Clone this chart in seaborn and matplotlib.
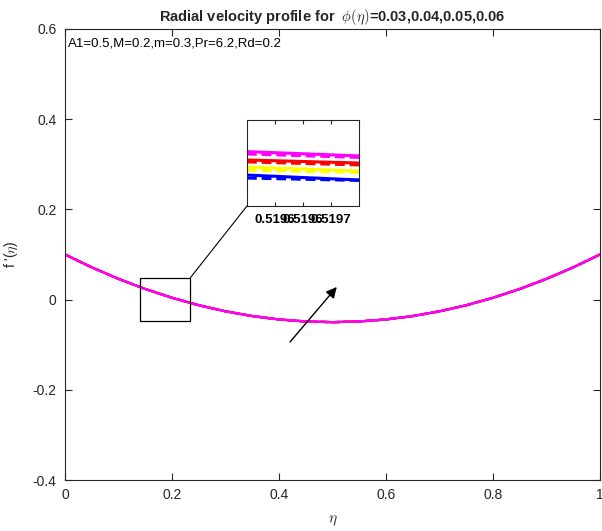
import numpy as np
import pandas as pd
import seaborn as sns
import matplotlib.pyplot as plt
from matplotlib.patches import Rectangle, ConnectionPatch

sns.set_style("ticks")
plt.rcParams["font.family"] = ["Liberation Sans", "DejaVu Sans"]
plt.rcParams["mathtext.fontset"] = "cm"

# radial velocity profile f'(eta); the four phi curves coincide at this scale
eta = [0.0, 0.05, 0.1, 0.15, 0.2, 0.25, 0.3, 0.35, 0.4, 0.45, 0.5,
       0.55, 0.6, 0.65, 0.7, 0.75, 0.8, 0.85, 0.9, 0.95, 1.0]
fp = [0.100, 0.0715, 0.046, 0.0235, 0.004, -0.0125, -0.026, -0.0365, -0.044, -0.0485, -0.050,
      -0.0485, -0.044, -0.0365, -0.026, -0.0125, 0.004, 0.0235, 0.046, 0.0715, 0.100]

phi_labels = ["0.03", "0.04", "0.05", "0.06"]
series_colors = ["#0000ff", "#ffff00", "#ff0000", "#ff00ff"]

# magnified window near the minimum
inset_eta = [0.51955, 0.51975]
inset_solid = {
    "0.03": [-0.050256, -0.050279],
    "0.04": [-0.050219, -0.050237],
    "0.05": [-0.050186, -0.050200],
    "0.06": [-0.050147, -0.050167],
}
inset_dashed = {
    "0.03": [-0.050270, -0.050281],
    "0.04": [-0.050233, -0.050244],
    "0.05": [-0.050195, -0.050209],
    "0.06": [-0.050158, -0.050174],
}
inset_ticks = [0.5196, 0.51965, 0.5197]
inset_ticklabels = ["0.5196", "0.5196", "0.5197"]

x_ticks = [0, 0.2, 0.4, 0.6, 0.8, 1]
x_ticklabels = ["0", "0.2", "0.4", "0.6", "0.8", "1"]
y_ticks = [-0.4, -0.2, 0, 0.2, 0.4, 0.6]
y_ticklabels = ["-0.4", "-0.2", "0", "0.2", "0.4", "0.6"]

W, H = 602, 531
fig = plt.figure(figsize=(W / 100, H / 100), dpi=100)
ax = fig.add_axes([65 / W, 1 - 480 / H, 535 / W, 451 / H])

axis_col = "#262626"
main_rows = []
for phi in phi_labels:
    for kind in ["solid", "dashed"]:
        for e, v in zip(eta, fp):
            main_rows.append({"eta": e, "fp": v, "phi": phi, "kind": kind})
main_df = pd.DataFrame(main_rows)

for phi, col in zip(phi_labels, series_colors):
    for kind, ls in [("solid", "-"), ("dashed", (0, (3.5, 1.5)))]:
        sub = main_df[(main_df.phi == phi) & (main_df.kind == kind)]
        sns.lineplot(data=sub, x="eta", y="fp", ax=ax, color=col, lw=1.6,
                     linestyle=ls, estimator=None, sort=False, legend=False)

ax.set_xlim(0, 1)
ax.set_ylim(-0.4, 0.6)
ax.set_xticks(x_ticks)
ax.set_xticklabels(x_ticklabels)
ax.set_yticks(y_ticks)
ax.set_yticklabels(y_ticklabels)
ax.tick_params(direction="in", top=True, right=True, length=5, width=0.8,
               colors=axis_col, labelsize=10, labelcolor=axis_col, pad=6)
for s in ax.spines.values():
    s.set_color(axis_col)
    s.set_linewidth(0.8)
    s.set_visible(True)

ax.set_xlabel(r"$\eta$", fontsize=11, labelpad=8, color=axis_col)
ax.set_ylabel(r"f '($\eta$)", fontsize=10, color=axis_col)
ax.yaxis.set_label_coords(-0.084, 0.5)
ax.set_title(r"Radial velocity profile for  $\phi(\eta)$=0.03,0.04,0.05,0.06",
             fontsize=10.5, fontweight="bold", pad=6)
ax.text(0.006, 0.567, "A1=0.5,M=0.2,m=0.3,Pr=6.2,Rd=0.2", fontsize=9.5,
        va="center", ha="left", color="black")

# zoom rectangle, connector and trend arrow
rect_x0, rect_x1, rect_y0, rect_y1 = 0.140, 0.234, -0.047, 0.048
ax.add_patch(Rectangle((rect_x0, rect_y0), rect_x1 - rect_x0, rect_y1 - rect_y0,
                       fill=False, ec="black", lw=0.9, zorder=5))
ax.annotate("", xy=(0.508, 0.028), xytext=(0.4206, -0.094),
            arrowprops=dict(arrowstyle="-|>", color="black", lw=1.0,
                            mutation_scale=16, shrinkA=0, shrinkB=0))

axin = fig.add_axes([247 / W, 1 - 206 / H, 112 / W, 86 / H])
for phi, col in zip(phi_labels, series_colors):
    sns.lineplot(x=inset_eta, y=inset_solid[phi], ax=axin, color=col, lw=2.2,
                 estimator=None, legend=False)
    sns.lineplot(x=inset_eta, y=inset_dashed[phi], ax=axin, color=col, lw=2.2,
                 linestyle=(0, (3.2, 1.6)), estimator=None, legend=False)
axin.set_xlim(inset_eta)
axin.set_ylim(-0.0504, -0.0500)
axin.set_xticks(inset_ticks)
axin.set_xticklabels(inset_ticklabels, fontweight="bold", fontsize=9.5)
axin.set_yticks([])
axin.set_xlabel("")
axin.set_ylabel("")
axin.tick_params(direction="in", top=True, length=3, width=0.8, colors=axis_col,
                 labelcolor="black", pad=6)
for s in axin.spines.values():
    s.set_color(axis_col)
    s.set_linewidth(0.8)
    s.set_visible(True)

con = ConnectionPatch(xyA=(rect_x1, rect_y1), coordsA=ax.transData,
                      xyB=(0, 0), coordsB=axin.transAxes, color="black", lw=0.8)
fig.add_artist(con)

fig.savefig("out.png", dpi=100)
